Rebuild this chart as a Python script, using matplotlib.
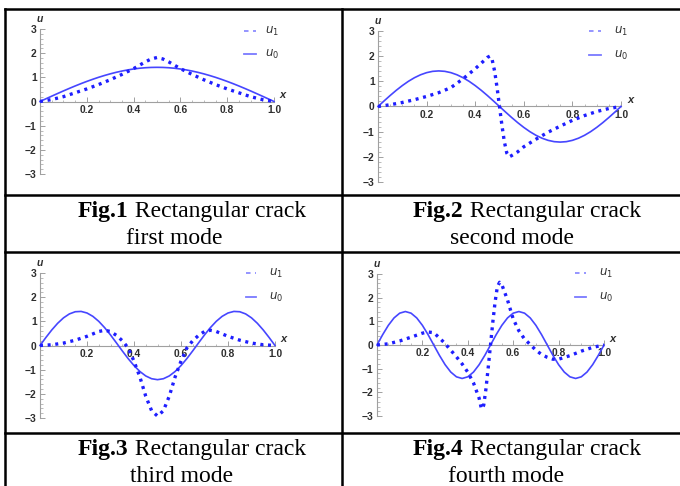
import matplotlib
matplotlib.use("Agg")
import matplotlib.pyplot as plt
from matplotlib.lines import Line2D
from matplotlib.ticker import MultipleLocator, FixedLocator

W, H = 680, 486

# ---------------- data ----------------
x_fine = [i * 0.025 for i in range(41)]

mode1_u0 = [0, 0.111, 0.221, 0.330, 0.437, 0.541, 0.642, 0.739, 0.831, 0.918, 1.000,
            1.075, 1.144, 1.206, 1.260, 1.307, 1.345, 1.376, 1.397, 1.410, 1.414,
            1.410, 1.397, 1.376, 1.345, 1.307, 1.260, 1.206, 1.144, 1.075, 1.000,
            0.918, 0.831, 0.739, 0.642, 0.541, 0.437, 0.330, 0.221, 0.111, 0]
mode1_x1 = [0, .05, .1, .15, .2, .25, .3, .35, .4, .45, .475, .5, .525, .55, .6, .65,
            .7, .75, .8, .85, .9, .95, 1.0]
mode1_u1 = [0, .08, .2, .36, .52, .70, .90, 1.12, 1.36, 1.64, 1.76, 1.82, 1.76, 1.64,
            1.36, 1.12, .90, .70, .52, .36, .2, .08, 0]

mode2_u0 = [0, .221, .437, .642, .831, 1.0, 1.144, 1.260, 1.345, 1.397, 1.414, 1.397,
            1.345, 1.260, 1.144, 1.0, .831, .642, .437, .221, 0, -.221, -.437, -.642,
            -.831, -1.0, -1.144, -1.260, -1.345, -1.397, -1.414, -1.397, -1.345, -1.260,
            -1.144, -1.0, -.831, -.642, -.437, -.221, 0]
mode2_x1 = [0, .05, .1, .15, .2, .25, .3, .35, .4, .425, .45, .46, .47, .48, .49, .5,
            .51, .52, .53, .54, .55, .575, .6, .65, .7, .75, .8, .85, .9, .95, 1.0]
mode2_u1 = [0, .07, .16, .27, .40, .55, .75, 1.1, 1.5, 1.72, 1.95, 2.0, 1.85, 1.4, .75, 0,
            -.75, -1.4, -1.85, -2.0, -1.95, -1.8, -1.6, -1.3, -1.02, -.78, -.55, -.36,
            -.2, -.08, 0]

mode3_u0 = [0, .330, .642, .918, 1.144, 1.307, 1.397, 1.410, 1.345, 1.206, 1.0, .739,
            .437, .111, -.221, -.541, -.831, -1.075, -1.260, -1.375, -1.414, -1.375,
            -1.260, -1.075, -.831, -.541, -.221, .111, .437, .739, 1.0, 1.206, 1.345,
            1.410, 1.397, 1.307, 1.144, .918, .642, .330, 0]
mode3_x1 = [0, .05, .1, .15, .2, .25, .275, .3, .325, .35, .375, .4, .425, .45, .475, .5,
            .525, .55, .575, .6, .625, .65, .675, .7, .725, .75, .8, .85, .9, .95, 1.0]
mode3_u1 = [0, .03, .1, .22, .38, .58, .63, .58, .42, .2, -.1, -.65, -1.3, -2.1, -2.7,
            -2.92, -2.7, -2.1, -1.3, -.65, -.1, .2, .42, .58, .63, .58, .38, .22, .1,
            .03, 0]

mode4_u0 = [0, .437, .831, 1.144, 1.345, 1.414, 1.345, 1.144, .831, .437, 0, -.437,
            -.831, -1.144, -1.345, -1.414, -1.345, -1.144, -.831, -.437, 0, .437, .831,
            1.144, 1.345, 1.414, 1.345, 1.144, .831, .437, 0, -.437, -.831, -1.144,
            -1.345, -1.414, -1.345, -1.144, -.831, -.437, 0]
mode4_x1 = [0, .05, .1, .15, .2, .225, .25, .275, .3, .325, .35, .375, .4, .425, .45,
            .46, .47, .48, .49, .5, .51, .52, .53, .54, .55, .575, .6, .625, .65, .675,
            .7, .725, .75, .775, .8, .85, .9, .95, 1.0]
mode4_u1 = [0, .05, .17, .33, .5, .55, .52, .3, .06, -.22, -.5, -.8, -1.15, -1.6, -2.25,
            -2.7, -2.55, -1.85, -.95, 0, .95, 1.8, 2.45, 2.65, 2.55, 1.9, 1.1, .6, .25,
            .02, -.22, -.4, -.52, -.6, -.6, -.45, -.26, -.1, 0]

x_ticks = [0.2, 0.4, 0.6, 0.8, 1.0]
x_tick_labels = ["0.2", "0.4", "0.6", "0.8", "1.0"]
y_ticks = [-3, -2, -1, 0, 1, 2, 3]
y_tick_labels = ["\u22123", "\u22122", "\u22121", "0", "1", "2", "3"]

captions = [("Fig.1", " Rectangular crack", "first mode"),
            ("Fig.2", " Rectangular crack", "second mode"),
            ("Fig.3", " Rectangular crack", "third mode"),
            ("Fig.4", " Rectangular crack", "fourth mode")]

# ---------------- figure ----------------
plt.rcParams["mathtext.fontset"] = "dejavusans"
fig = plt.figure(figsize=(W / 100, H / 100), dpi=100)
fig.patch.set_facecolor("white")

def fx(px):
    return px / W

def fy(py):
    return 1 - py / H

SOLID = "#4646ff"
DOT = "#1e1eff"
AXC = "#a0a0a0"
TXT = "#2e2e2e"
tick_font = dict(family="Liberation Sans", weight="bold", size=7.4)

def panel(rect, u0, x1, u1, leg):
    left, right, top, bottom = rect
    ax = fig.add_axes([fx(left), fy(bottom), (right - left) / W, (bottom - top) / H])
    ax.set_xlim(0, 1)
    ax.set_ylim(-3, 3)
    ax.patch.set_alpha(0)
    for s in ("top", "right"):
        ax.spines[s].set_visible(False)
    ax.spines["bottom"].set_position(("data", 0))
    for s in ("bottom", "left"):
        ax.spines[s].set_color(AXC)
        ax.spines[s].set_linewidth(0.8)
    ax.xaxis.set_major_locator(FixedLocator(x_ticks))
    ax.set_xticklabels(x_tick_labels, **tick_font, color=TXT)
    ax.xaxis.set_minor_locator(MultipleLocator(0.05))
    ax.yaxis.set_major_locator(FixedLocator(y_ticks))
    ax.set_yticklabels(y_tick_labels, **tick_font, color=TXT)
    ax.yaxis.set_minor_locator(MultipleLocator(0.2))
    ax.tick_params(which="major", direction="in", length=3.5, width=0.7, color=AXC, pad=2.5)
    ax.tick_params(which="minor", direction="in", length=1.8, width=0.5, color=AXC)
    ax.plot(x_fine, u0, color=SOLID, lw=1.2, clip_on=False, zorder=3)
    ax.plot(x1, u1, color=DOT, lw=2.4, linestyle=(0, (0.9, 1.4)), clip_on=False, zorder=4)
    ax.text(0, 3.2, "u", style="italic", fontsize=7.5, color=TXT, ha="center", va="bottom",
            family="Liberation Sans", weight="bold")
    ax.text(1.025, 0.05, "x", style="italic", fontsize=8, color=TXT, ha="left", va="bottom",
            family="Liberation Sans", weight="bold")
    lx0, lx1, tx, ly1, ly0 = leg
    fig.add_artist(Line2D([fx(lx0), fx(lx1)], [fy(ly1), fy(ly1)], color="#8c8cff", lw=1.3,
                          linestyle=(0, (2.5, 2.5))))
    fig.add_artist(Line2D([fx(lx0), fx(lx1)], [fy(ly0), fy(ly0)], color="#7a7aff", lw=1.3))
    fig.text(fx(tx), fy(ly1), r"$u_1$", fontsize=8.5, color=TXT, va="center", ha="left")
    fig.text(fx(tx), fy(ly0), r"$u_0$", fontsize=8.5, color=TXT, va="center", ha="left")
    return ax

panel((40, 274, 29, 174), mode1_u0, mode1_x1, mode1_u1, (244, 256, 265, 31, 54))
panel((378, 621, 31, 182), mode2_u0, mode2_x1, mode2_u1, (589, 601, 614, 31, 55))
panel((40, 275, 273, 418), mode3_u0, mode3_x1, mode3_u1, (246, 256, 269, 273, 297))
panel((377, 604, 274, 416), mode4_u0, mode4_x1, mode4_u1, (575, 586, 599, 273, 297))

# table lines
LW = 1.8
def hline(py, x0=5, x1=680):
    fig.add_artist(Line2D([fx(x0), fx(x1)], [fy(py), fy(py)], color="black", lw=LW))

def vline(px, y0=9, y1=486):
    fig.add_artist(Line2D([fx(px), fx(px)], [fy(y0), fy(y1)], color="black", lw=LW))

hline(9)
hline(195)
hline(252)
hline(433)
vline(5)
vline(342)

# captions
cap_pos = [((78, 211), (126, 238)), ((413, 211), (450, 238)),
           ((78, 449), (130, 476)), ((413, 449), (448, 476))]
for (bold, rest, line2), ((x1p, y1p), (x2p, y2p)) in zip(captions, cap_pos):
    t = fig.text(fx(x1p), fy(y1p), bold, family="Liberation Serif", weight="bold",
                 fontsize=17, va="center", ha="left")
    fig.canvas.draw()
    bb = t.get_window_extent()
    fig.text(bb.x1 / W, fy(y1p), rest, family="Liberation Serif", fontsize=17,
             va="center", ha="left")
    fig.text(fx(x2p), fy(y2p), line2, family="Liberation Serif", fontsize=17,
             va="center", ha="left")

fig.savefig("out.png", dpi=100)
